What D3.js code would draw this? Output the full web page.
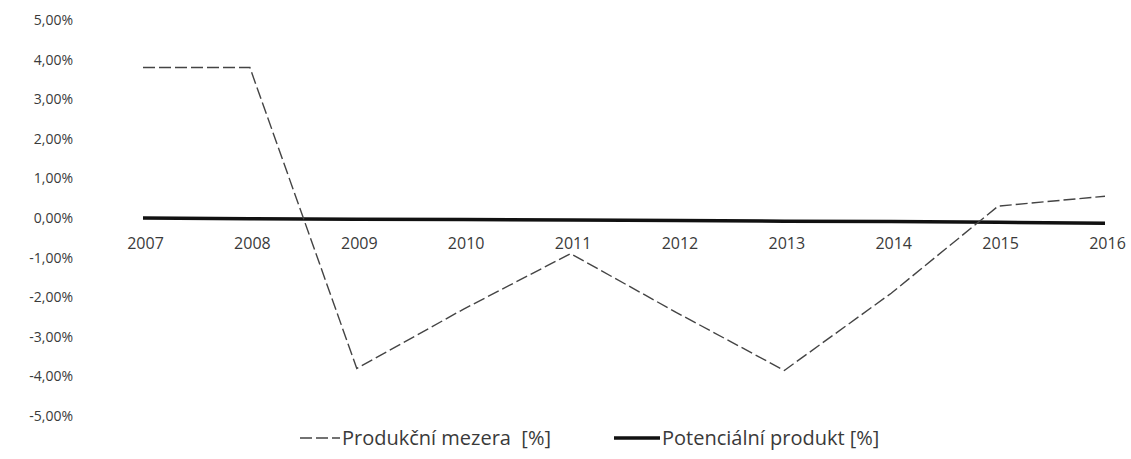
<!DOCTYPE html>
<html>
<head>
<meta charset="utf-8">
<script src="https://cdn.jsdelivr.net/npm/d3@7"></script>
<style>
  body { margin: 0; background: #fff; }
  text { font-family: "Open Sans", sans-serif; fill: #3a3a3a; }
</style>
</head>
<body>
<div id="chart"></div>
<script>
    "use strict";

    // Categories (years) and series values in percent.
    var years = ["2007", "2008", "2009", "2010", "2011", "2012", "2013", "2014", "2015", "2016"];
    var gapValues = [3.8, 3.8, -3.8, -2.3, -0.9, -2.4, -3.85, -1.9, 0.3, 0.55];
    var potentialValues = [0.0, -0.02, -0.03, -0.04, -0.05, -0.06, -0.08, -0.09, -0.11, -0.13];
    var yTicks = [5, 4, 3, 2, 1, 0, -1, -2, -3, -4, -5];
    var seriesNames = ["Produkční mezera\u00a0\u00a0[%]", "Potenciální produkt [%]"];

    var width = 1131, height = 459;
    var svg = d3.select("#chart").append("svg")
        .attr("width", width).attr("height", height);

    var x = d3.scalePoint().domain(years).range([143, 1105]);
    var y = d3.scaleLinear().domain([-5, 5]).range([416, 20]);

    var fmt = function (v) { return v.toFixed(2).replace(".", ",") + "%"; };

    // Y axis labels (no line, no ticks).
    var yAxis = d3.axisLeft(y).tickValues(yTicks).tickFormat(fmt).tickSize(0).tickPadding(0);
    var gy = svg.append("g").attr("transform", "translate(73,0)").call(yAxis);
    gy.select(".domain").remove();
    gy.selectAll("text").style("font-size", "14px").attr("fill", "#3a3a3a");

    // X axis labels just below the zero line.
    var xAxis = d3.axisBottom(x).tickSize(0).tickPadding(0);
    var gx = svg.append("g").attr("transform", "translate(2,238)").call(xAxis);
    gx.select(".domain").remove();
    gx.selectAll("text").style("font-size", "16px").attr("fill", "#3a3a3a");

    var line = d3.line()
        .x(function (d, i) { return x(years[i]); })
        .y(function (d) { return y(d); });

    // Potential product: thick black line.
    svg.append("path")
        .datum(potentialValues)
        .attr("d", line)
        .attr("fill", "none")
        .attr("stroke", "#111")
        .attr("stroke-width", 3.5);

    // Output gap: thin dashed dark line.
    svg.append("path")
        .datum(gapValues)
        .attr("d", line)
        .attr("fill", "none")
        .attr("stroke", "#444")
        .attr("stroke-width", 1.4)
        .attr("stroke-dasharray", "12,4");

    // Legend.
    var legend = svg.append("g").attr("transform", "translate(0,438)");
    var items = [
        {x0: 300, x1: 340, stroke: "#444", w: 1.4, dash: "12,4"},
        {x0: 614, x1: 660, stroke: "#111", w: 3.5, dash: null}
    ];
    items.forEach(function (it, i) {
        legend.append("line")
            .attr("x1", it.x0).attr("x2", it.x1)
            .attr("y1", 0).attr("y2", 0)
            .attr("stroke", it.stroke)
            .attr("stroke-width", it.w)
            .attr("stroke-dasharray", it.dash);
        legend.append("text")
            .attr("x", it.x1 + 2).attr("y", 0)
            .attr("dy", "0.35em")
            .style("font-size", "20px")
            .text(seriesNames[i]);
    });
</script>
</body>
</html>
